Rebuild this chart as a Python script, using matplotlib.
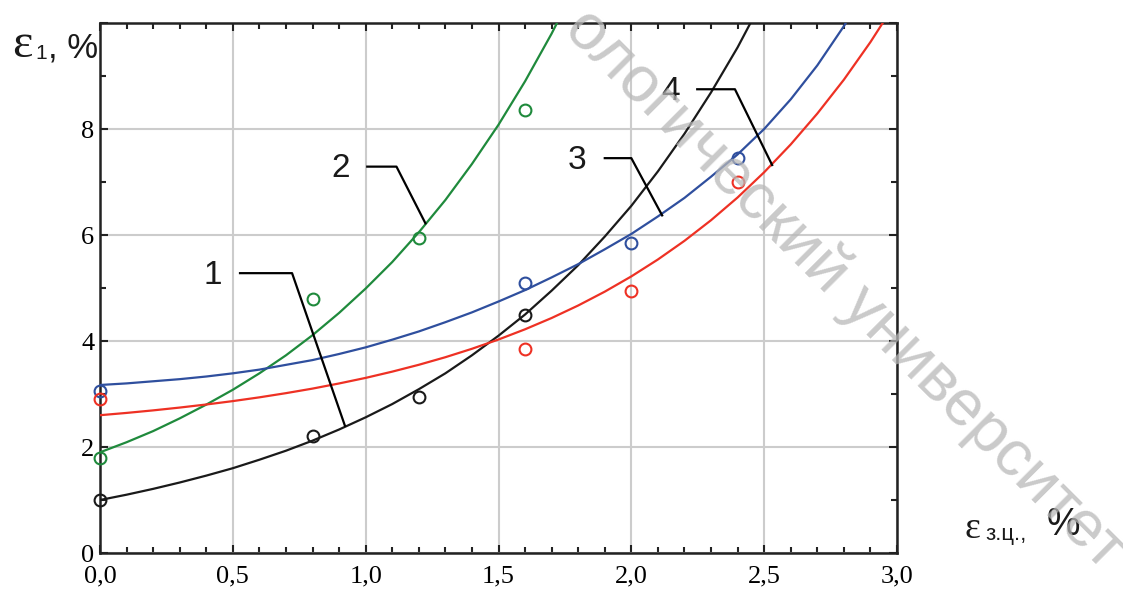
import matplotlib.pyplot as plt
import numpy as np

# measured points
x_pts = [0.0, 0.8, 1.2, 1.6]
y1_pts = [1.0, 2.2, 2.95, 4.5]          # curve 1, black
y2_pts = [1.8, 4.8, 5.95, 8.35]         # curve 2, green
x34_pts = [0.0, 1.6, 2.0, 2.4]
y3_pts = [3.05, 5.1, 5.85, 7.45]        # curve 3, blue
y4_pts = [2.9, 3.85, 4.95, 7.0]         # curve 4, red

# trend lines, every 0.1
x_line = [0.0, 0.1, 0.2, 0.3, 0.4, 0.5, 0.6, 0.7, 0.8, 0.9, 1.0, 1.1, 1.2,
          1.3, 1.4, 1.5, 1.6, 1.7, 1.8, 1.9, 2.0, 2.1, 2.2, 2.3, 2.4, 2.5,
          2.6, 2.7, 2.8, 2.9, 3.0]
y1_line = [1.00, 1.10, 1.21, 1.33, 1.46, 1.60, 1.76, 1.93, 2.12, 2.33, 2.56,
           2.81, 3.09, 3.39, 3.73, 4.10, 4.50, 4.95, 5.43, 5.97, 6.55, 7.20,
           7.91, 8.69, 9.54, 10.49]
y2_line = [1.90, 2.09, 2.30, 2.54, 2.80, 3.08, 3.39, 3.73, 4.11, 4.53, 4.99,
           5.49, 6.05, 6.66, 7.34, 8.08, 8.90, 9.80, 10.79]
y3_line = [3.17, 3.20, 3.24, 3.28, 3.33, 3.39, 3.46, 3.55, 3.64, 3.755, 3.88,
           4.025, 4.18, 4.355, 4.54, 4.745, 4.96, 5.20, 5.45, 5.73, 6.02,
           6.35, 6.70, 7.10, 7.52, 8.00, 8.56, 9.20, 9.94, 10.78]
y4_line = [2.60, 2.643, 2.691, 2.744, 2.802, 2.866, 2.937, 3.016, 3.102,
           3.199, 3.304, 3.422, 3.551, 3.694, 3.853, 4.028, 4.221, 4.434,
           4.67, 4.931, 5.219, 5.538, 5.89, 6.279, 6.708, 7.184, 7.709,
           8.291, 8.93, 9.64, 10.42]

xticks = [0.0, 0.5, 1.0, 1.5, 2.0, 2.5, 3.0]
xtick_labels = ['0,0', '0,5', '1,0', '1,5', '2,0', '2,5', '3,0']
yticks = [0, 2, 4, 6, 8, 10]
ytick_labels = ['0', '2', '4', '6', '8', '']

c_black = '#1a1a1a'
c_green = '#1f8a3c'
c_blue = '#2f4f9e'
c_red = '#ee3124'

fig = plt.figure(figsize=(11.23, 5.93), dpi=100)
ax = fig.add_axes([100 / 1123, 1 - 553 / 593, 797 / 1123, 530 / 593])

ax.plot(x_line[:len(y1_line)], y1_line, color=c_black, lw=1.6, zorder=3)
ax.plot(x_line[:len(y2_line)], y2_line, color=c_green, lw=1.6, zorder=3)
ax.plot(x_line[:len(y3_line)], y3_line, color=c_blue, lw=1.6, zorder=3)
ax.plot(x_line[:len(y4_line)], y4_line, color=c_red, lw=1.6, zorder=3)

mk = dict(marker='o', ls='none', mfc='none', ms=8.5, mew=1.5, zorder=4, clip_on=False)
ax.plot(x_pts, y1_pts, mec=c_black, **mk)
ax.plot(x_pts, y2_pts, mec=c_green, **mk)
ax.plot(x34_pts, y3_pts, mec=c_blue, **mk)
ax.plot(x34_pts, y4_pts, mec=c_red, **mk)

ax.set_xlim(0, 3)
ax.set_ylim(0, 10)
ax.set_xticks(xticks)
ax.set_xticklabels(xtick_labels, family='Liberation Serif', fontsize=19)
ax.set_yticks(yticks)
ax.set_yticklabels(ytick_labels, family='Liberation Serif', fontsize=19)
ax.set_xticks(np.arange(0, 3.01, 0.1), minor=True)
ax.set_yticks(np.arange(0, 10.01, 1), minor=True)
ax.tick_params(which='both', direction='in', top=True, right=True, width=1.5, color='#222222')
ax.tick_params(which='major', length=6)
ax.tick_params(which='minor', length=4)
ax.tick_params(axis='x', which='major', pad=9)
ax.tick_params(axis='y', which='major', pad=4)
ax.grid(True, which='major', color='#cccccc', lw=1.5, zorder=0)
for s in ax.spines.values():
    s.set_linewidth(1.8)
    s.set_color('#222222')

# callouts: label, text position, leader line
callouts = [
    ('1', (0.425, 5.23), [(0.527, 5.28), (0.723, 5.28), (0.922, 2.40)]),
    ('2', (0.905, 7.26), [(1.006, 7.29), (1.116, 7.29), (1.225, 6.22)]),
    ('3', (1.795, 7.40), [(1.900, 7.45), (2.000, 7.45), (2.116, 6.37)]),
    ('4', (2.148, 8.71), [(2.248, 8.75), (2.390, 8.75), (2.530, 7.32)]),
]
for lab, (tx, ty), pts in callouts:
    ax.text(tx, ty, lab, fontsize=24, family='Liberation Sans', color=c_black,
            ha='center', va='center', zorder=5)
    xs, ys = zip(*pts)
    ax.plot(xs, ys, color='black', lw=1.6, zorder=5)

# axis titles
fig.text(12 / 1123, 1 - 57 / 593, 'ε', family='Liberation Serif', fontsize=35, color=c_black)
fig.text(35 / 1123, 1 - 59 / 593, '1', family='Liberation Sans', fontsize=15, color=c_black)
fig.text(48 / 1123, 1 - 57 / 593, ', %', family='Liberation Sans', fontsize=25, color=c_black)

fig.text(964 / 1123, 1 - 538 / 593, 'ε', family='Liberation Serif', fontsize=27, color=c_black)
fig.text(985 / 1123, 1 - 540 / 593, 'з.ц.,', family='Liberation Sans', fontsize=16, color=c_black)
fig.text(1047 / 1123, 1 - 535 / 593, '%', family='Liberation Sans', fontsize=27, color=c_black)

# watermark
fig.text(1116 / 1123, 1 - 560 / 593, 'ологический университет', family='Liberation Sans',
         fontsize=47, color='#b8b8b8', alpha=0.75, rotation=-45, rotation_mode='anchor',
         ha='right', va='center', zorder=10)

fig.savefig('out.png', dpi=100)
